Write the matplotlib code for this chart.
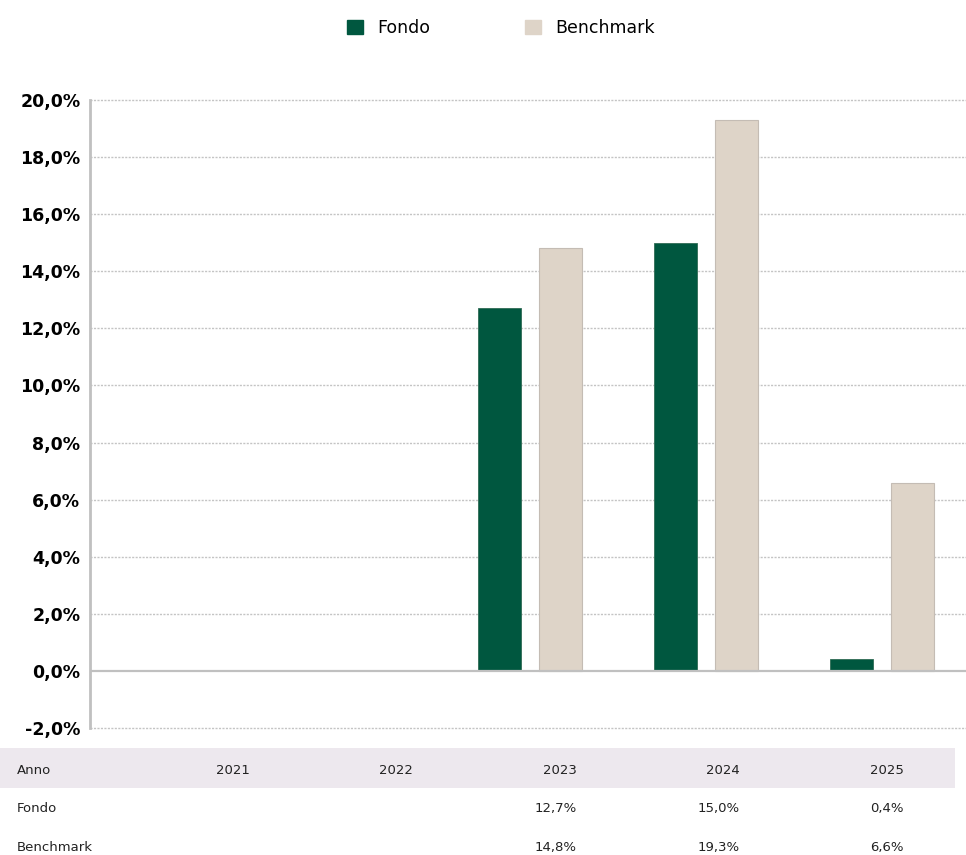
import numpy as np
import matplotlib.pyplot as plt
import matplotlib.patches as mpatches

# ── DATA ──────────────────────────────────────────────────────────────────────
years = ["2021", "2022", "2023", "2024", "2025"]
fondo = [np.nan, np.nan, 12.7, 15.0, 0.4]
benchmark = [np.nan, np.nan, 14.8, 19.3, 6.6]
fondo_lbl = ["", "", "12,7%", "15,0%", "0,4%"]
bench_lbl = ["", "", "14,8%", "19,3%", "6,6%"]
yticks = np.arange(-2, 21, 2)

C_FONDO = "#00573f"
C_BENCH = "#ded4c8"

W, H = 966, 855
fig = plt.figure(figsize=(W / 100, H / 100), dpi=100)
fig.patch.set_facecolor("white")

# axes in pixel coords: left 90, right 970, top 100, bottom 728
ax = fig.add_axes([90 / W, 1 - 728 / H, (970 - 90) / W, (728 - 100) / H])
x = np.arange(len(years))
bw = 0.245
off = 0.171
ax.bar(x - off, fondo, bw, color=C_FONDO, edgecolor="#2f6b55", linewidth=0.6, zorder=3)
ax.bar(x + off, benchmark, bw, color=C_BENCH, edgecolor="#c4bcb4", linewidth=0.8, zorder=3)

ax.set_xlim(-0.5, 4.5)
ax.set_ylim(-2, 20)
ax.set_yticks(yticks)
ax.set_yticklabels([f"{v:.1f}%".replace(".", ",") for v in yticks],
                   fontsize=12.5, fontweight="bold")
ax.set_xticks([])
ax.tick_params(axis="y", length=0, pad=7)
for v in yticks:
    if v == 0:
        continue
    ax.axhline(v, color="#c4c4c4", linewidth=1, linestyle=(0, (1.5, 1)),
               zorder=1, clip_on=False)
ax.axhline(0, color="#c0c0c0", linewidth=1.6, zorder=4)
for s in ["top", "right", "bottom"]:
    ax.spines[s].set_visible(False)
ax.spines["left"].set_color("#c0c0c0")
ax.spines["left"].set_linewidth(2)

# ── LEGEND ────────────────────────────────────────────────────────────────────
handles = [mpatches.Patch(color=C_FONDO, label="Fondo"),
           mpatches.Patch(color=C_BENCH, label="Benchmark")]
fig.legend(handles=handles, loc="center", bbox_to_anchor=(501 / W, 1 - 28 / H),
           ncol=2, frameon=False, fontsize=12.5, handlelength=0.9, handleheight=0.9,
           columnspacing=5.5, handletextpad=0.8)

# ── TABLE BELOW ───────────────────────────────────────────────────────────────
tax = fig.add_axes([0, 0, 1, 1], zorder=-1)
tax.set_xlim(0, W)
tax.set_ylim(H, 0)
tax.axis("off")
tax.add_patch(mpatches.Rectangle((0, 748), 955, 40, color="#ede8ee", linewidth=0))

col_right = [250, 413, 577, 740, 904]
rows = [("Anno", years, 770), ("Fondo", fondo_lbl, 808), ("Benchmark", bench_lbl, 847)]
for name, vals, yy in rows:
    tax.text(17, yy, name, fontsize=9.5, va="center", ha="left", color="#222222")
    for xr, v in zip(col_right, vals):
        tax.text(xr, yy, v, fontsize=9.5, va="center", ha="right", color="#222222")

fig.savefig("out.png", dpi=100)
